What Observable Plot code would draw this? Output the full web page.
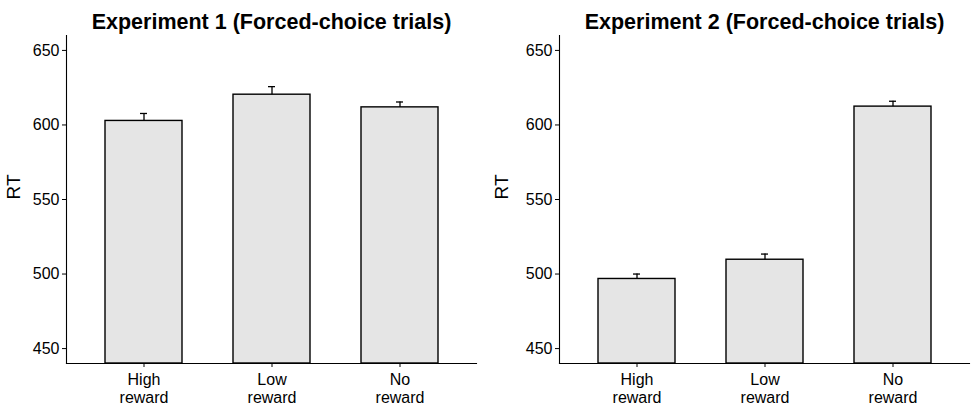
<!DOCTYPE html>
<html>
<head>
<meta charset="utf-8">
<script src="https://cdn.jsdelivr.net/npm/d3@7"></script>
<script src="https://cdn.jsdelivr.net/npm/@observablehq/plot@0.6"></script>
<style>
  html, body { margin: 0; padding: 0; background: #fff; }
  #chart { display: flex; width: 976px; height: 409px; }
  svg { font-family: "Liberation Sans", Arial, sans-serif; }
  g[aria-label="y-axis tick label"], g[aria-label="x-axis tick label"] { font-size: 16px !important; fill: #000; }
</style>
</head>
<body>
<div id="chart"></div>
<script>
const categories = ["High\nreward", "Low\nreward", "No\nreward"];
const titles = ["Experiment 1 (Forced-choice trials)", "Experiment 2 (Forced-choice trials)"];
const exp1RT = [602.7, 620.3, 611.8];
const exp1SE = [5.0, 5.4, 3.6];
const exp2RT = [496.7, 509.6, 612.3];
const exp2SE = [3.3, 3.8, 3.6];
const yTicks = [450, 500, 550, 600, 650];
const yDomain = [440, 660];
const yLabel = "RT";

function panel(title, rt, se, marginLeft, marginRight) {
  const data = categories.map((c, i) => ({cat: c, rt: rt[i], lo: rt[i] - se[i], hi: rt[i] + se[i]}));
  return Plot.plot({
    width: 488,
    height: 409,
    marginTop: 35,
    marginBottom: 46,
    marginLeft,
    marginRight,
    style: {fontFamily: '"Liberation Sans", Arial, sans-serif', fontSize: "16px", color: "#000", background: "#fff"},
    x: {domain: categories, paddingInner: 0.4, paddingOuter: 0.3, label: null},
    y: {domain: yDomain, label: null},
    marks: [
      Plot.ruleX(data, {x: "cat", y1: "lo", y2: "hi", stroke: "#000", strokeWidth: 1.3}),
      Plot.tickY(data, {x: "cat", y: "hi", stroke: "#000", strokeWidth: 1.3, insetLeft: 35, insetRight: 35}),
      Plot.barY(data, {x: "cat", y1: yDomain[0], y2: "rt", fill: "#E5E5E5", stroke: "#000", strokeWidth: 1.4}),
      Plot.frame({anchor: "left", stroke: "#000", strokeWidth: 1.1}),
      Plot.frame({anchor: "bottom", stroke: "#000", strokeWidth: 1.1}),
      Plot.axisY({ticks: yTicks, tickSize: 4, tickPadding: 3, fontSize: 16, label: null, stroke: "#000", fill: "#000"}),
      Plot.axisX({tickSize: 4, tickPadding: 5, fontSize: 16, label: null, lineHeight: 1.12, stroke: "#000", fill: "#000"}),
      Plot.text([yLabel], {frameAnchor: "left", dx: -(marginLeft - 13), rotate: -90, fontSize: 19, fill: "#000", text: d => d}),
      Plot.text([title], {frameAnchor: "top", dy: -22, fontSize: 21.5, fontWeight: "bold", fill: "#000", text: d => d})
    ]
  });
}

const el = document.getElementById("chart");
el.append(panel(titles[0], exp1RT, exp1SE, 66, 12));
el.append(panel(titles[1], exp2RT, exp2SE, 71, 7));
</script>
</body>
</html>
